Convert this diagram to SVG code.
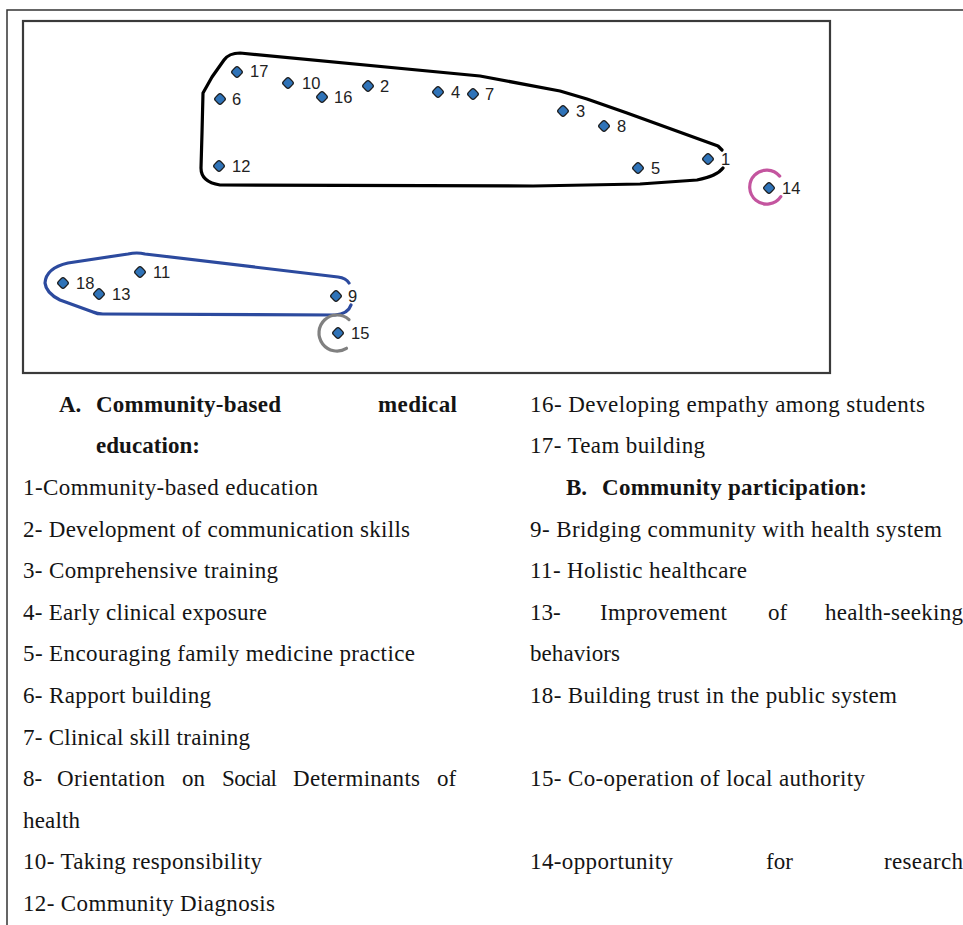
<svg xmlns="http://www.w3.org/2000/svg" xmlns:xlink="http://www.w3.org/1999/xlink" width="963" height="925" viewBox="0 0 963 925">
<style>
.frame{fill:none;stroke:#333;stroke-width:1.5}
.plot{fill:none;stroke:#3a3a3a;stroke-width:2.2}
.dot{fill:#2f73b8;stroke:#1b1b1b;stroke-width:1.2}
.lbl{font-family:"Liberation Sans",Arial,sans-serif;font-size:16.5px;fill:#222}
.hull{fill:none;stroke-width:3.2;stroke-linecap:round;stroke-linejoin:round}
.t{font-family:"Liberation Serif","Times New Roman",serif;font-size:23px;fill:#141414}
.b{font-weight:bold}
</style>
<defs>
<rect id="dot" class="dot" x="-4.4" y="-4.4" width="8.8" height="8.8" rx="2.4" transform="rotate(45)"/>
</defs>
<rect width="963" height="925" fill="#fff"/>
<g id="frame">
<path class="frame" d="M7,925 V10 H963"/>
<rect class="plot" x="23" y="21" width="807" height="352"/>
</g>
<g id="connectors">
<path class="hull" stroke="#000" d="M722,150 L718,146 L627,113 L587,99 L560,91 L480,76 L240,53 Q229,53 224,60 L212,77 L203,93 L202,133 L201,168 Q201,182 220,185 L533,186 L640,184 L697,180 Q717,176 723,168"/>
<path class="hull" stroke="#2c4a9e" d="M349,283 Q346,278 338,277 L145,254 Q137,252 128,254 L68,263 Q46,268 45,283 Q46,293 60,300 L93,312 Q97,314 103,314 L335,315 Q348,314 351,305"/>
<path class="hull" stroke="#c4559f" d="M779.7,176.1 A17,17 0 1 0 780.8,196.6"/>
<path class="hull" stroke="#808080" d="M349,319.6 A18,18 0 1 0 346.5,348.3"/>
</g>
<g id="n1"><use xlink:href="#dot" x="708" y="159"/><text class="lbl" x="721" y="165">1</text></g>
<g id="n2"><use xlink:href="#dot" x="368" y="86"/><text class="lbl" x="380" y="92">2</text></g>
<g id="n3"><use xlink:href="#dot" x="563" y="111"/><text class="lbl" x="576" y="117">3</text></g>
<g id="n4"><use xlink:href="#dot" x="438" y="92"/><text class="lbl" x="451" y="98">4</text></g>
<g id="n5"><use xlink:href="#dot" x="638" y="168"/><text class="lbl" x="651" y="174">5</text></g>
<g id="n6"><use xlink:href="#dot" x="220" y="99"/><text class="lbl" x="232" y="105">6</text></g>
<g id="n7"><use xlink:href="#dot" x="473" y="94"/><text class="lbl" x="485" y="100">7</text></g>
<g id="n8"><use xlink:href="#dot" x="604" y="126"/><text class="lbl" x="617" y="132">8</text></g>
<g id="n9"><use xlink:href="#dot" x="336" y="296"/><text class="lbl" x="348" y="302">9</text></g>
<g id="n10"><use xlink:href="#dot" x="288" y="83"/><text class="lbl" x="302" y="89">10</text></g>
<g id="n11"><use xlink:href="#dot" x="140" y="272"/><text class="lbl" x="153" y="278">11</text></g>
<g id="n12"><use xlink:href="#dot" x="219" y="166"/><text class="lbl" x="232" y="172">12</text></g>
<g id="n13"><use xlink:href="#dot" x="99" y="294"/><text class="lbl" x="112" y="300">13</text></g>
<g id="n14"><use xlink:href="#dot" x="769" y="188"/><text class="lbl" x="782" y="194">14</text></g>
<g id="n15"><use xlink:href="#dot" x="338" y="333"/><text class="lbl" x="351" y="339">15</text></g>
<g id="n16"><use xlink:href="#dot" x="322" y="97"/><text class="lbl" x="334" y="103">16</text></g>
<g id="n17"><use xlink:href="#dot" x="237" y="72"/><text class="lbl" x="250" y="77">17</text></g>
<g id="n18"><use xlink:href="#dot" x="63" y="283"/><text class="lbl" x="76" y="289">18</text></g>
<g id="legend-a" class="t">
<text class="t b" x="59" y="412">A.</text>
<text class="t b" x="96" y="412" textLength="185" lengthAdjust="spacing">Community-based</text>
<text class="t b" x="378" y="412" textLength="79" lengthAdjust="spacing">medical</text>
<text class="t b" x="96" y="453" textLength="104" lengthAdjust="spacing">education:</text>
<text class="t" x="23" y="495" textLength="295" lengthAdjust="spacing">1-Community-based education</text>
<text class="t" x="23" y="537" textLength="387" lengthAdjust="spacing">2- Development of communication skills</text>
<text class="t" x="23" y="578" textLength="255" lengthAdjust="spacing">3- Comprehensive training</text>
<text class="t" x="23" y="620" textLength="244" lengthAdjust="spacing">4- Early clinical exposure</text>
<text class="t" x="23" y="661" textLength="392" lengthAdjust="spacing">5- Encouraging family medicine practice</text>
<text class="t" x="23" y="703" textLength="188" lengthAdjust="spacing">6- Rapport building</text>
<text class="t" x="23" y="745" textLength="227" lengthAdjust="spacing">7- Clinical skill training</text>
<text class="t" x="23" y="786">8-</text>
<text class="t" x="57" y="786" textLength="108" lengthAdjust="spacing">Orientation</text>
<text class="t" x="182" y="786">on</text>
<text class="t" x="222" y="786" textLength="55" lengthAdjust="spacing">Social</text>
<text class="t" x="293" y="786" textLength="127" lengthAdjust="spacing">Determinants</text>
<text class="t" x="437" y="786">of</text>
<text class="t" x="23" y="828" textLength="57" lengthAdjust="spacing">health</text>
<text class="t" x="23" y="869" textLength="239" lengthAdjust="spacing">10- Taking responsibility</text>
<text class="t" x="23" y="911" textLength="252" lengthAdjust="spacing">12- Community Diagnosis</text>
</g>
<g id="legend-b" class="t">
<text class="t" x="530" y="412" textLength="395" lengthAdjust="spacing">16- Developing empathy among students</text>
<text class="t" x="530" y="453" textLength="175" lengthAdjust="spacing">17- Team building</text>
<text class="t b" x="566" y="495">B.</text>
<text class="t b" x="602" y="495" textLength="265" lengthAdjust="spacing">Community participation:</text>
<text class="t" x="530" y="537" textLength="412" lengthAdjust="spacing">9- Bridging community with health system</text>
<text class="t" x="530" y="578" textLength="217" lengthAdjust="spacing">11- Holistic healthcare</text>
<text class="t" x="530" y="620">13-</text>
<text class="t" x="600" y="620" textLength="127" lengthAdjust="spacing">Improvement</text>
<text class="t" x="768" y="620">of</text>
<text class="t" x="825" y="620" textLength="138" lengthAdjust="spacing">health-seeking</text>
<text class="t" x="530" y="661" textLength="90" lengthAdjust="spacing">behaviors</text>
<text class="t" x="530" y="703" textLength="367" lengthAdjust="spacing">18- Building trust in the public system</text>
<text class="t" x="530" y="786" textLength="335" lengthAdjust="spacing">15- Co-operation of local authority</text>
<text class="t" x="530" y="869" textLength="143" lengthAdjust="spacing">14-opportunity</text>
<text class="t" x="766" y="869">for</text>
<text class="t" x="884" y="869" textLength="79" lengthAdjust="spacing">research</text>
</g>
</svg>
